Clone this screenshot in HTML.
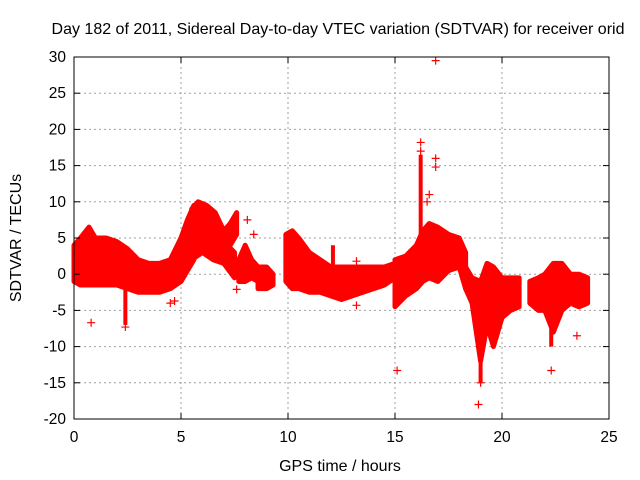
<!DOCTYPE html>
<html><head><meta charset="utf-8"><style>
body{margin:0;background:#fff}
svg{display:block;font-family:"Liberation Sans",sans-serif}
</style></head><body>
<svg id="chart" width="640" height="480">
<text x="338" y="34" font-size="16" text-anchor="middle">Day 182 of 2011, Sidereal Day-to-day VTEC variation (SDTVAR) for receiver orid</text>
<text x="340" y="471" font-size="16" text-anchor="middle">GPS time / hours</text>
<text transform="translate(21,238) rotate(-90)" font-size="16" text-anchor="middle">SDTVAR / TECUs</text>
<g id="grid"></g><g id="marks"></g><g id="axes"></g>
</svg>
<script>
const xTicks=[0,5,10,15,20,25];
const yTicks=[-20,-15,-10,-5,0,5,10,15,20,25,30];
// bands: time (hours), lower and upper SDTVAR envelope
const band1T=[0,0.3,0.7,1,1.5,2,2.5,3,3.5,4,4.5,5,5.3,5.6];
const band1Hi=[4,5,6.5,5,5,4.5,3.5,2,1.5,1.5,2,5,7.5,9.5];
const band1Lo=[-1,-1.5,-1.5,-1.5,-1.5,-1.5,-2,-2.5,-2.5,-2.5,-2,-1,0.5,2];
const band2T=[5.5,5.8,6.2,6.6,7,7.3,7.6];
const band2Hi=[9,10,9.5,8.5,6,7,8.5];
const band2Lo=[5,6,5.5,5,4,4,5.5];
const band3T=[5.5,6,6.5,7,7.5];
const band3Hi=[5,6,5,4.5,3];
const band3Lo=[2,3,2,1.5,-0.5];
const band4T=[7.7,8,8.3,8.6];
const band4Hi=[2,4,2,1];
const band4Lo=[-1,-1,-0.5,-1];
const band5T=[8.6,9,9.3];
const band5Hi=[1,1,0];
const band5Lo=[-2,-2,-1.5];
const band6T=[9.9,10.2,10.5,11,11.5,12,12.5,13,13.5,14,14.5,15];
const band6Hi=[5.5,6,5,3,2,1,1,1,1,1,1,1.5];
const band6Lo=[-1,-2,-2,-2.5,-2.5,-3,-3.5,-3,-2.5,-2,-1.5,-0.5];
const band7T=[15,15.5,16,16.3,16.6,17,17.5,18,18.3];
const band7Hi=[2,2.5,4,6,7,6.5,5.5,5,3];
const band7Lo=[-4.5,-3,-2,-1,-0.5,-1,0.5,1,-2];
const band8T=[18.3,18.6,19,19.3,19.6,20,20.4,20.8];
const band8Hi=[1,-0.5,-1,1.5,1,-0.5,-0.5,-0.5];
const band8Lo=[-2,-4,-12,-7,-10,-6,-5,-4.5];
const band9T=[21.3,21.7,22,22.4,22.8,23.2,23.6,24];
const band9Hi=[-1,-0.5,0,1.5,1.5,0,0,-0.5];
const band9Lo=[-4,-5,-5,-8,-5,-4,-4.5,-4];
const spikeT=[2.4,16.2,19.0,22.3,12.1,0.7];
const spikeHi=[-1.5,16.5,-4,-5,4,6.5];
const spikeLo=[-7,5,-15,-10,0,0];
const outT=[0.8,2.4,4.5,4.7,7.6,8.1,8.4,13.2,13.2,15.1,16.9,16.9,16.9,16.2,16.2,18.9,19,22.3,23.5,16.6,16.5];
const outV=[-6.7,-7.3,-4,-3.7,-2.1,7.5,5.5,-4.3,1.8,-13.3,29.5,16,14.8,18.2,17,-18,-15,-13.3,-8.5,11,10];

const L=74,R=609,T=57,B=419;
const xs=t=>L+(t-0)/25*(R-L);
const ys=v=>B-(v+20)/50*(B-T);
const NS="http://www.w3.org/2000/svg";
function mk(tag,attrs,parent){const e=document.createElementNS(NS,tag);for(const k in attrs)e.setAttribute(k,attrs[k]);parent.appendChild(e);return e;}
const grid=document.getElementById('grid'),marks=document.getElementById('marks'),axes=document.getElementById('axes');
xTicks.forEach(t=>{
 if(t>0&&t<25){const g=mk('line',{x1:xs(t),x2:xs(t),y1:T,y2:B,stroke:'#a0a0a0','stroke-dasharray':'2,3'},grid);
 
 }
 mk('line',{x1:xs(t),x2:xs(t),y1:B,y2:B-6,stroke:'#000'},axes);
 mk('line',{x1:xs(t),x2:xs(t),y1:T,y2:T+6,stroke:'#000'},axes);
 const lb=mk('text',{x:xs(t),y:B+23,'font-size':15.5,'text-anchor':'middle'},axes);lb.textContent=t;
 
 
});
yTicks.forEach(v=>{
 if(v>-20&&v<30){const g=mk('line',{x1:L,x2:R,y1:ys(v),y2:ys(v),stroke:'#a0a0a0','stroke-dasharray':'2,3'},grid);
 
 }
 mk('line',{x1:L,x2:L+6,y1:ys(v),y2:ys(v),stroke:'#000'},axes);
 mk('line',{x1:R,x2:R-6,y1:ys(v),y2:ys(v),stroke:'#000'},axes);
 const lb=mk('text',{x:L-8,y:ys(v)+5,'font-size':15.5,'text-anchor':'end'},axes);lb.textContent=v;
 
 
});
const fr=mk('rect',{x:L,y:T,width:R-L,height:B-T,fill:'none',stroke:'#000'},axes);


function band(tArr,lo,hi){
 const pts=[];
 tArr.forEach((t,i)=>pts.push(xs(t)+','+ys(hi[i])));
 for(let i=tArr.length-1;i>=0;i--)pts.push(xs(tArr[i])+','+ys(lo[i]));
 const p=mk('polygon',{points:pts.join(' '),fill:'#ff0000',stroke:'#ff0000','stroke-width':5,'stroke-linejoin':'round'},marks);
 
 
}
band(band1T,band1Lo,band1Hi);band(band2T,band2Lo,band2Hi);band(band3T,band3Lo,band3Hi);
band(band4T,band4Lo,band4Hi);band(band5T,band5Lo,band5Hi);band(band6T,band6Lo,band6Hi);
band(band7T,band7Lo,band7Hi);band(band8T,band8Lo,band8Hi);band(band9T,band9Lo,band9Hi);
spikeT.forEach((t,i)=>{
 const s=mk('line',{x1:xs(t),x2:xs(t),y1:ys(spikeHi[i]),y2:ys(spikeLo[i]),stroke:'#ff0000','stroke-width':4},marks);
 
 
});
outT.forEach((t,i)=>{
 const x=xs(t),y=ys(outV[i]);
 const p=mk('path',{d:`M${x-4},${y}H${x+4}M${x},${y-4}V${y+4}`,stroke:'#ff0000','stroke-width':1.2},marks);
 
 
});
</script>
</body></html>
